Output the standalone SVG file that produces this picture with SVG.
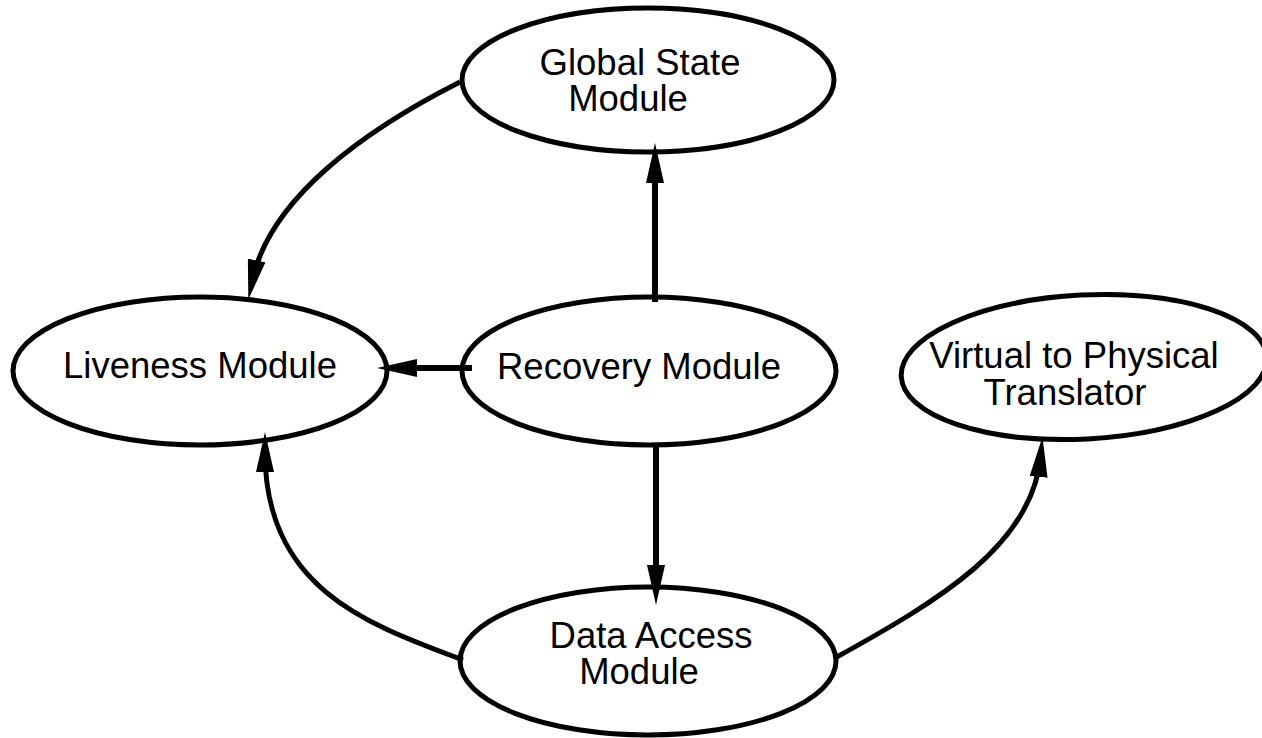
<svg xmlns="http://www.w3.org/2000/svg" width="1262" height="738" viewBox="0 0 1262 738">
<style>
.node{fill:#fff;stroke:#000;stroke-width:5}
.lbl{font-family:"Liberation Sans",Arial,sans-serif;font-size:36.5px;fill:#000}
.edge{fill:none;stroke:#000;stroke-width:5}
.thick{stroke-width:6}
</style>
<defs>
<marker id="ah" viewBox="0 0 40 18" markerWidth="40" markerHeight="18" markerUnits="userSpaceOnUse" refX="20" refY="9" orient="auto">
<path d="M0,0 L40,9 L0,18 Z" fill="#000"/>
</marker>
</defs>
<rect width="1262" height="738" fill="#fff"/>
<g id="global-state">
<ellipse class="node" cx="648" cy="80" rx="186" ry="72"/>
<text class="lbl" x="640" y="75" text-anchor="middle">Global State</text>
<text class="lbl" x="628" y="111" text-anchor="middle">Module</text>
</g>
<g id="liveness">
<ellipse class="node" cx="200" cy="371" rx="187" ry="74"/>
<text class="lbl" x="200" y="378" text-anchor="middle">Liveness Module</text>
</g>
<g id="recovery">
<ellipse class="node" cx="649" cy="371" rx="187" ry="74"/>
<text class="lbl" x="639" y="379" text-anchor="middle">Recovery Module</text>
</g>
<g id="virtual">
<ellipse class="node" cx="1084" cy="367" rx="183" ry="72" transform="rotate(-3 1084 367)"/>
<text class="lbl" x="1074" y="368" text-anchor="middle">Virtual to Physical</text>
<text class="lbl" x="1065" y="405" text-anchor="middle">Translator</text>
</g>
<g id="data-access">
<ellipse class="node" cx="648" cy="661" rx="188" ry="74"/>
<text class="lbl" x="651" y="648" text-anchor="middle">Data Access</text>
<text class="lbl" x="639" y="684" text-anchor="middle">Module</text>
</g>
<g id="connectors">
<path class="edge thick" d="M655,302 L655,163" marker-end="url(#ah)"/>
<path class="edge thick" d="M472,368 L397,368" marker-end="url(#ah)"/>
<path class="edge thick" d="M656,447 L656,585" marker-end="url(#ah)"/>
<path class="edge" d="M460,82 C365,130 270,198 252.5,280" marker-end="url(#ah)"/>
<path class="edge" d="M463,660 C370,625 265,590 265,452" marker-end="url(#ah)"/>
<path class="edge" d="M835,658 C940,600 1032,545 1040.5,457" marker-end="url(#ah)"/>
</g>
</svg>
